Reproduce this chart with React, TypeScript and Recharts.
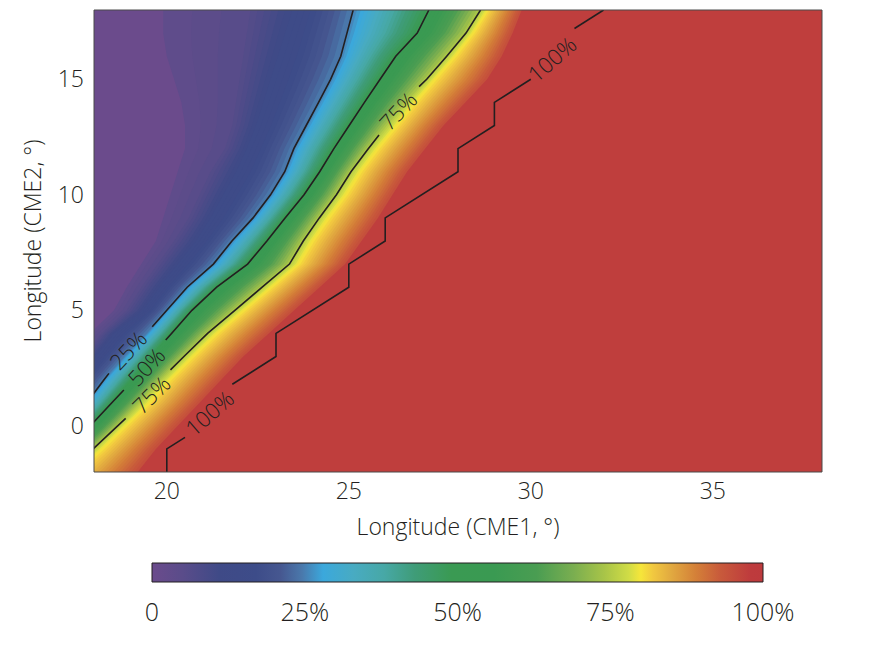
import React from "react";
import { ComposedChart, Area, Line, XAxis, YAxis, CartesianGrid, ReferenceDot, BarChart, Bar } from "recharts";

// CME2 longitude rows (deg)
const cme2Rows = [-2, -1, 0, 1, 2, 3, 4, 5, 6, 7, 8, 9, 10, 11, 12, 13, 14, 15, 16, 17, 18];

// CME1 longitude at which the fraction reaches a level, one entry per CME2 row
const level03 = [15.1, 15.6, 16.1, 16.6, 16.9, 17.4, 17.9, 18.55, 18.9, 19.3, 19.7, 19.9, 20.1, 20.3, 20.5, 20.5, 20.4, 20.2, 20.0, 19.9, 19.9];
const level06 = [15.4, 15.9, 16.4, 16.9, 17.2, 17.7, 18.2, 18.9, 19.3, 19.75, 20.2, 20.6, 20.9, 21.2, 21.6, 21.8, 21.9, 22.0, 22.1, 22.2, 22.3];
const level12 = [15.8, 16.3, 16.8, 17.0, 17.5, 18.05, 18.55, 19.35, 19.8, 20.3, 20.8, 21.2, 21.55, 21.9, 22.2, 22.45, 22.65, 22.85, 23.05, 23.25, 23.45];
const level25 = [16.3, 16.8, 17.3, 17.8, 18.28, 18.84, 19.45, 20.0, 20.56, 21.28, 21.79, 22.37, 22.85, 23.24, 23.49, 23.83, 24.17, 24.5, 24.78, 24.95, 25.12];
const level50 = [16.7, 17.3, 17.9, 18.49, 19.06, 19.59, 20.13, 20.69, 21.37, 22.22, 22.75, 23.25, 23.77, 24.2, 24.59, 25.01, 25.43, 25.86, 26.29, 26.88, 27.2];
const level75 = [17.3, 17.98, 18.65, 19.27, 19.85, 20.47, 21.12, 21.87, 22.62, 23.37, 23.75, 24.19, 24.66, 25.06, 25.54, 26.05, 26.57, 27.14, 27.69, 28.22, 28.62];
const level80 = [17.5, 18.2, 18.85, 19.5, 20.07, 20.7, 21.35, 22.1, 22.85, 23.6, 23.98, 24.42, 24.9, 25.3, 25.78, 26.3, 26.8, 27.35, 27.9, 28.4, 28.8];
const level95 = [19.2, 19.7, 20.3, 20.9, 21.5, 22.1, 22.8, 23.5, 24.2, 24.9, 25.35, 25.8, 26.2, 26.6, 27.1, 27.6, 28.2, 28.8, 29.2, 29.5, 29.75];

const shadeLevels = [
  { key: "s03", value: 0.03, xs: level03 },
  { key: "s06", value: 0.06, xs: level06 },
  { key: "s12", value: 0.12, xs: level12 },
  { key: "s25", value: 0.25, xs: level25 },
  { key: "s50", value: 0.5, xs: level50 },
  { key: "s75", value: 0.75, xs: level75 },
  { key: "s80", value: 0.8, xs: level80 },
  { key: "s95", value: 0.95, xs: level95 },
];
const bandSteps = [3, 6, 10, 20, 14, 4, 18];

// colour scale
const colorStops: [number, string][] = [
  [0, "#6b4b8c"], [0.05, "#5a4c8a"], [0.11, "#3f4a87"], [0.17, "#3d4c89"], [0.21, "#465790"],
  [0.245, "#4a78ab"], [0.28, "#3ba8dc"], [0.33, "#48abc2"], [0.38, "#47a8a6"], [0.43, "#3f9c78"],
  [0.49, "#3a9a53"], [0.56, "#3a9a52"], [0.63, "#4a9d52"], [0.69, "#7aae50"], [0.74, "#a8c448"],
  [0.78, "#d0dc46"], [0.8, "#f6e63a"], [0.82, "#f1c840"], [0.85, "#e1a940"], [0.89, "#d48038"],
  [0.93, "#c85a3b"], [0.98, "#be3b3d"], [1, "#bd3a3d"],
];

// contour lines as [CME1, CME2] points, split where the labels sit
const contour25 = [
  [[25.12, 18], [24.95, 17], [24.78, 16], [24.5, 15], [24.17, 14], [23.83, 13], [23.49, 12], [23.24, 11], [22.85, 10], [22.37, 9], [21.79, 8], [21.28, 7], [20.56, 6], [20.0, 5], [19.6, 4.29]],
  [[18.41, 2.27], [18.28, 2], [17.8, 1]],
];
const contour50 = [
  [[27.2, 18], [26.88, 17], [26.29, 16], [25.86, 15], [25.43, 14], [25.01, 13], [24.59, 12], [24.2, 11], [23.77, 10], [23.25, 9], [22.75, 8], [22.22, 7], [21.37, 6], [20.69, 5], [20.13, 4], [19.97, 3.71]],
  [[18.82, 1.55], [18.49, 1], [17.9, 0]],
];
const contour75 = [
  [[28.62, 18], [28.22, 17], [27.69, 16], [27.14, 15], [26.93, 14.68]],
  [[25.83, 12.59], [25.54, 12], [25.06, 11], [24.66, 10], [24.19, 9], [23.75, 8], [23.37, 7], [22.62, 6], [21.87, 5], [21.12, 4], [20.47, 3], [20.1, 2.42]],
  [[18.87, 0.32], [18.65, 0], [17.98, -1]],
];
const contour100 = [
  [[20, -2], [20, -1], [20.5, -0.5]],
  [[21.8, 1.8], [23, 3], [23, 4], [25, 6], [25, 7], [26, 8], [26, 9], [28, 11], [28, 12], [29, 13], [29, 14], [30, 15]],
  [[31.2, 17.2], [32, 18]],
];
const contours = [
  { id: "c25", segments: contour25 },
  { id: "c50", segments: contour50 },
  { id: "c75", segments: contour75 },
  { id: "c100", segments: contour100 },
];

const contourLabels = [
  { text: "25%", cme1: 18.92, cme2: 3.3, angle: -47 },
  { text: "50%", cme1: 19.42, cme2: 2.58, angle: -47 },
  { text: "75%", cme1: 19.56, cme2: 1.37, angle: -45 },
  { text: "100%", cme1: 21.16, cme2: 0.58, angle: -41 },
  { text: "75%", cme1: 26.34, cme2: 13.65, angle: -47 },
  { text: "100%", cme1: 30.57, cme2: 15.9, angle: -41 },
];

const xTicks = [20, 25, 30, 35];
const yTicks = [0, 5, 10, 15];
const barTicks = [0, 25, 50, 75, 100];
const colorBar = [{ name: "fraction", full: 100 }];

const ink = "#231f20";
const frame = "#4a4a4a";
const font = "'Open Sans', sans-serif";

function hexToRgb(h: string) {
  return [1, 3, 5].map((i) => parseInt(h.slice(i, i + 2), 16));
}
function colorAt(v: number) {
  for (let i = 1; i < colorStops.length; i++) {
    const [v1, c1] = colorStops[i];
    if (v <= v1) {
      const [v0, c0] = colorStops[i - 1];
      const t = (v - v0) / (v1 - v0);
      const a = hexToRgb(c0), b = hexToRgb(c1);
      const c = a.map((x, k) => Math.round(x + t * (b[k] - x)));
      return `rgb(${c[0]},${c[1]},${c[2]})`;
    }
  }
  return colorStops[colorStops.length - 1][1];
}

type Row = { cme2: number; [k: string]: number };

function buildTable() {
  const rows = new Map<number, Row>();
  const get = (y: number) => {
    if (!rows.has(y)) rows.set(y, { cme2: y });
    return rows.get(y)!;
  };
  cme2Rows.forEach((y, i) => {
    const r = get(y);
    shadeLevels.forEach((l) => (r[l.key] = l.xs[i]));
  });
  contours.forEach((c) =>
    c.segments.forEach((seg, si) => seg.forEach(([x, y]) => (get(y)[`${c.id}_${si}`] = x)))
  );
  return [...rows.values()].sort((a, b) => a.cme2 - b.cme2);
}
const table = buildTable();

// filled layers, from the right-most level edge to the left-most one
const layers: { id: string; get: (r: Row) => number | null; fill: string }[] = [];
for (let b = shadeLevels.length - 2; b >= 0; b--) {
  const lo = shadeLevels[b];
  const hi = shadeLevels[b + 1];
  const n = bandSteps[b];
  for (let k = n; k >= 1; k--) {
    const t = k / n;
    layers.push({
      id: `${lo.key}-${k}`,
      get: (r: Row) => (r[lo.key] == null ? null : r[lo.key] + t * (r[hi.key] - r[lo.key])),
      fill: colorAt(lo.value + ((k - 0.5) / n) * (hi.value - lo.value)),
    });
  }
}
layers.push({ id: "base", get: (r: Row) => (r.s03 == null ? null : r.s03), fill: colorAt(0) });

const lineKeys = contours.flatMap((c) => c.segments.map((_, si) => `${c.id}_${si}`));

export default function App() {
  const tick = { fontSize: 23, fill: ink, fontWeight: 300, fontFamily: font };
  const title = { fontSize: 23, fontWeight: 300, fill: ink, fontFamily: font };
  return (
    <div style={{ position: "absolute", left: 0, top: 0, width: 877, height: 648, background: "#fff", fontFamily: font }}>
      <ComposedChart width={877} height={545} data={table} layout="vertical" margin={{ top: 9, right: 54, bottom: 0, left: 10 }}>
        <CartesianGrid horizontal={false} vertical={false} fill={colorAt(0.975)} fillOpacity={1} />
        {layers.map((l) => (
          <Area
            key={l.id}
            dataKey={l.get}
            type="linear"
            stroke="none"
            fill={l.fill}
            fillOpacity={1}
            connectNulls
            dot={false}
            activeDot={false}
            isAnimationActive={false}
          />
        ))}
        {lineKeys.map((k) => (
          <Line
            key={k}
            dataKey={k}
            type="linear"
            stroke={ink}
            strokeWidth={1.6}
            dot={false}
            activeDot={false}
            connectNulls
            isAnimationActive={false}
          />
        ))}
        {contourLabels.map((l, i) => (
          <ReferenceDot
            key={i}
            x={l.cme1}
            y={l.cme2}
            r={0}
            shape={(p: any) => (
              <text
                x={p.cx}
                y={p.cy}
                transform={`rotate(${l.angle} ${p.cx} ${p.cy})`}
                textAnchor="middle"
                dominantBaseline="central"
                fontSize={22}
                fontWeight={300}
                fontFamily={font}
                fill={ink}
              >
                {l.text}
              </text>
            )}
          />
        ))}
        <XAxis
          type="number"
          domain={[18, 38]}
          ticks={xTicks}
          allowDataOverflow
          height={73}
          tickLine={false}
          tickMargin={5}
          axisLine={{ stroke: frame }}
          tick={tick}
          label={{ value: "Longitude (CME1, °)", position: "insideBottom", offset: 10, ...title }}
        />
        <YAxis
          type="number"
          dataKey="cme2"
          domain={[-2, 18]}
          ticks={yTicks}
          reversed
          allowDataOverflow
          width={84}
          tickLine={false}
          tickMargin={4}
          axisLine={{ stroke: frame }}
          tick={tick}
          label={{ value: "Longitude (CME2, °)", angle: -90, position: "insideLeft", offset: 23, textAnchor: "middle", ...title }}
        />
        <XAxis xAxisId="top" orientation="top" type="number" domain={[18, 38]} height={1} tick={false} tickLine={false} axisLine={{ stroke: frame }} />
        <YAxis yAxisId="right" orientation="right" type="number" domain={[-2, 18]} reversed width={1} tick={false} tickLine={false} axisLine={{ stroke: frame }} />
      </ComposedChart>
      <BarChart width={877} height={103} data={colorBar} layout="vertical" barCategoryGap={0} margin={{ top: 18, right: 114, bottom: 0, left: 152 }}>
        <defs>
          <linearGradient id="colorbar" x1="0" x2="1" y1="0" y2="0">
            {colorStops.map(([v, c]) => (
              <stop key={v} offset={v} stopColor={c} />
            ))}
          </linearGradient>
        </defs>
        <XAxis
          type="number"
          domain={[0, 100]}
          ticks={barTicks}
          height={66}
          axisLine={false}
          tickLine={false}
          tickMargin={15}
          interval={0}
          tick={{ ...tick, fontSize: 25 }}
          tickFormatter={(v: number) => (v === 0 ? "0" : `${v}%`)}
        />
        <YAxis type="category" dataKey="name" hide />
        <Bar dataKey="full" fill="url(#colorbar)" stroke={ink} strokeWidth={1} isAnimationActive={false} />
      </BarChart>
    </div>
  );
}
